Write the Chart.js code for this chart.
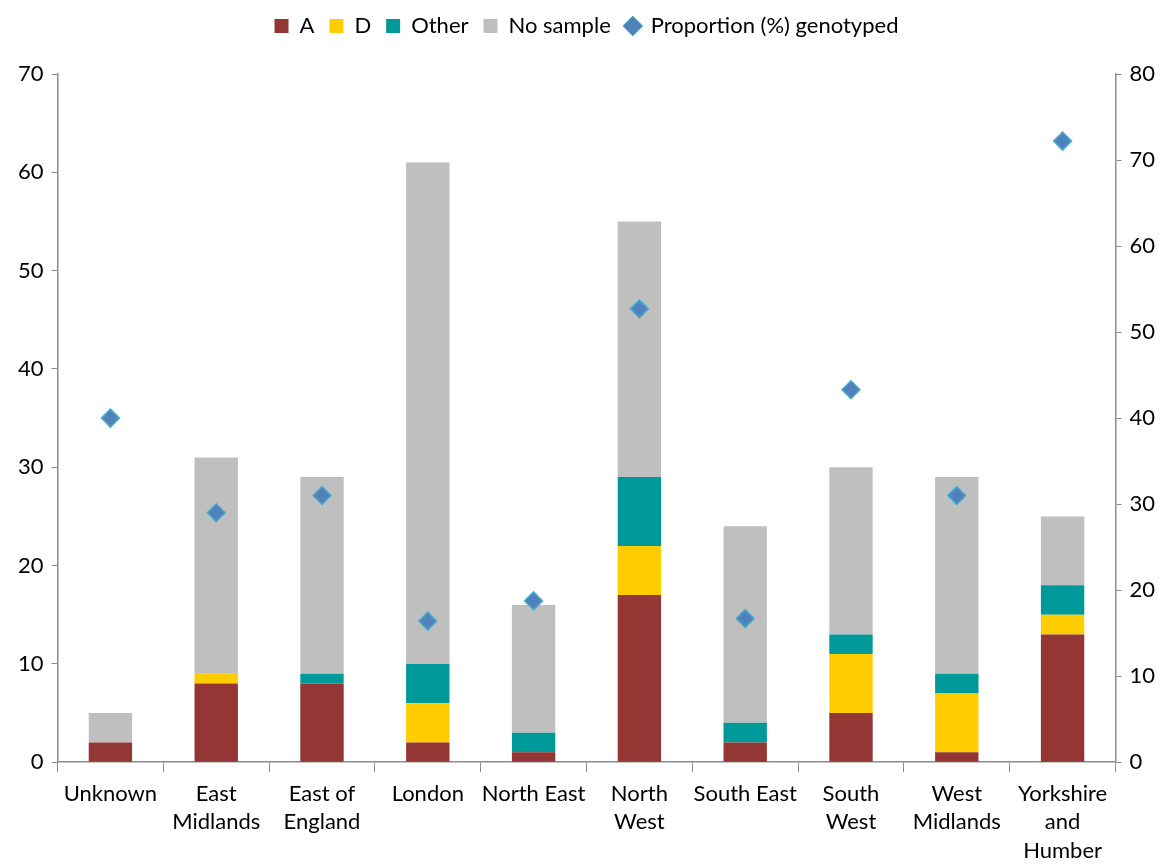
<!DOCTYPE html>
<html>
<head>
<meta charset="utf-8">
<script src="https://cdn.jsdelivr.net/npm/chart.js@4"></script>
<style>
  html, body { margin: 0; padding: 0; background: #fff; }
  #wrap { width: 1169px; height: 864px; }
</style>
</head>
<body>
<div id="wrap"><canvas id="chart"></canvas></div>
<script>
// Regions on the x axis (multi-line labels as in the original)
const regions = [
    'Unknown',
    ['East', 'Midlands'],
    ['East of', 'England'],
    'London',
    'North East',
    ['North', 'West'],
    'South East',
    ['South', 'West'],
    ['West', 'Midlands'],
    ['Yorkshire', 'and', 'Humber']
];

// Counts per genotype (left axis)
const countA        = [2, 8, 8, 2, 1, 17, 2, 5, 1, 13];
const countD        = [0, 1, 0, 4, 0, 5, 0, 6, 6, 2];
const countOther    = [0, 0, 1, 4, 2, 7, 2, 2, 2, 3];
const countNoSample = [3, 22, 20, 51, 13, 26, 20, 17, 20, 7];

// Proportion genotyped, % (right axis)
const proportion = [40, 29, 31, 16.4, 18.75, 52.7, 16.7, 43.3, 31, 72.2];

const font = "Lato, 'Open Sans', sans-serif";
const axisGrey = '#8c8c8c';

function barSet(label, data, color) {
    return {
        type: 'bar',
        label: label,
        data: data,
        backgroundColor: color,
        borderWidth: 0,
        stack: 'counts',
        yAxisID: 'y',
        categoryPercentage: 1,
        barPercentage: 0.41,
        order: 2
    };
}

// extra space between legend and plot area
const legendGap = {
    id: 'legendGap',
    beforeInit(chart) {
        const fit = chart.legend.fit;
        chart.legend.fit = function () {
            fit.bind(chart.legend)();
            this.height += 27;
        };
    }
};

const ctx = document.getElementById('chart').getContext('2d');
new Chart(ctx, {
    data: {
        labels: regions,
        datasets: [
            barSet('A', countA, '#943634'),
            barSet('D', countD, '#FFCC00'),
            barSet('Other', countOther, '#009999'),
            barSet('No sample', countNoSample, '#BFBFBF'),
            {
                type: 'line',
                label: 'Proportion (%) genotyped',
                data: proportion,
                yAxisID: 'y1',
                showLine: false,
                pointStyle: 'rectRot',
                pointRadius: 9,
                pointBackgroundColor: '#4F81BD',
                pointBorderColor: '#4BACC6',
                pointBorderWidth: 1.5,
                backgroundColor: '#4F81BD',
                borderColor: '#4BACC6',
                order: 1
            }
        ]
    },
    plugins: [legendGap],
    options: {
        responsive: true,
        maintainAspectRatio: false,
        animation: false,
        layout: { padding: { left: 10, right: 6, top: 0, bottom: -8 } },
        plugins: {
            legend: {
                position: 'top',
                labels: {
                    color: '#000',
                    font: { family: font, size: 22 },
                    boxWidth: 14,
                    boxHeight: 14,
                    padding: 15,
                    usePointStyle: true,
                    sort: (a, b) => a.datasetIndex - b.datasetIndex,
                    generateLabels: function (chart) {
                        const items = Chart.defaults.plugins.legend.labels.generateLabels(chart);
                        items.forEach(it => {
                            if (it.datasetIndex === 4) {
                                it.pointStyle = 'rectRot';
                                it.fillStyle = '#4F81BD';
                                it.strokeStyle = '#4BACC6';
                                it.lineWidth = 1;
                            } else {
                                it.pointStyle = 'rect';
                                it.lineWidth = 0;
                            }
                        });
                        return items;
                    }
                }
            },
            tooltip: { enabled: false }
        },
        scales: {
            x: {
                stacked: true,
                grid: {
                    offset: true,
                    drawOnChartArea: false,
                    drawTicks: true,
                    tickLength: 10,
                    color: axisGrey
                },
                border: { display: true, color: axisGrey, width: 1.5 },
                ticks: {
                    color: '#000',
                    font: { family: font, size: 22, lineHeight: 1.3 },
                    maxRotation: 0,
                    autoSkip: false,
                    padding: 7
                }
            },
            y: {
                stacked: true,
                position: 'left',
                min: 0,
                max: 70,
                ticks: {
                    stepSize: 10,
                    color: '#000',
                    font: { family: font, size: 22 },
                    padding: 8
                },
                grid: {
                    drawOnChartArea: false,
                    drawTicks: true,
                    tickLength: 6,
                    color: axisGrey
                },
                border: { display: true, color: axisGrey, width: 1.5 }
            },
            y1: {
                position: 'right',
                min: 0,
                max: 80,
                ticks: {
                    stepSize: 10,
                    color: '#000',
                    font: { family: font, size: 22 },
                    padding: 8
                },
                grid: {
                    drawOnChartArea: false,
                    drawTicks: true,
                    tickLength: 6,
                    color: axisGrey
                },
                border: { display: true, color: axisGrey, width: 1.5 }
            }
        }
    }
});
</script>
</body>
</html>
